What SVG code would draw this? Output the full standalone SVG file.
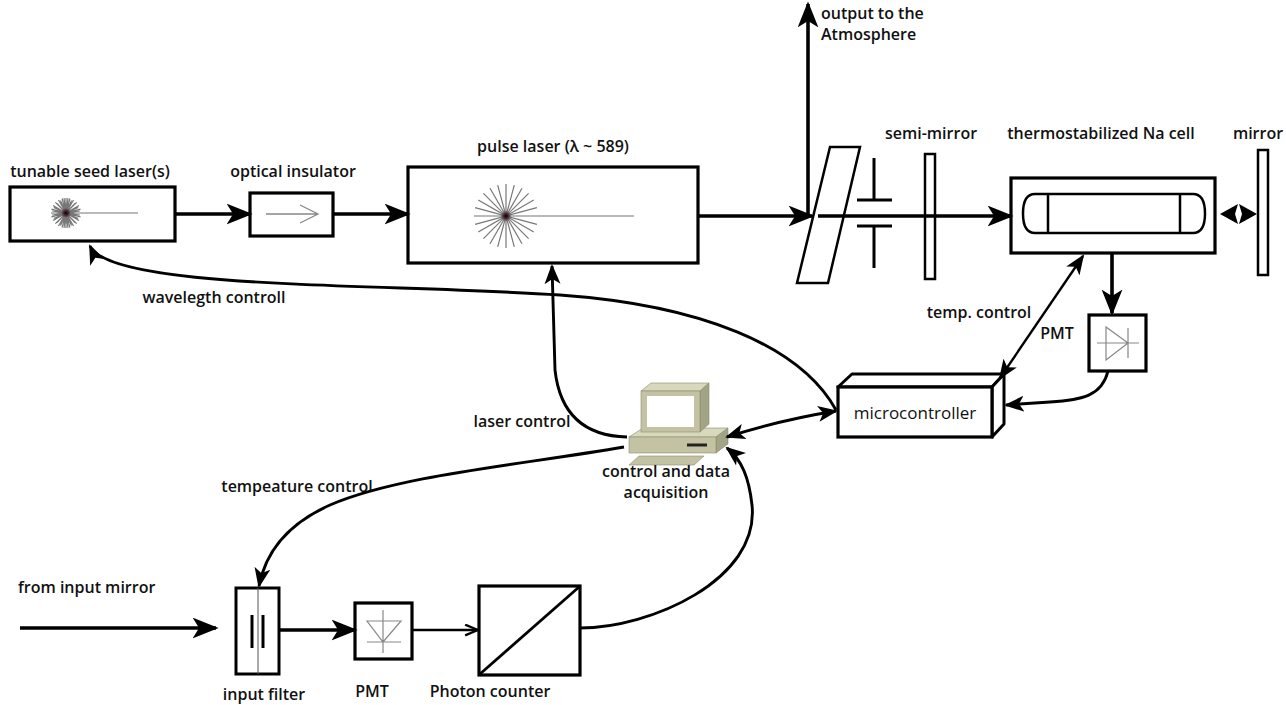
<svg xmlns="http://www.w3.org/2000/svg" width="1286" height="705" viewBox="0 0 1286 705">
  <style>
    .lb { font-family: "Open Sans", "Noto Sans", "Liberation Sans", sans-serif; font-size: 16px; font-weight: 600; fill: #111; }
    .lr { font-family: "Open Sans", "Noto Sans", "Liberation Sans", sans-serif; font-size: 17px; font-weight: 400; fill: #111; }
    .box { fill: #fff; stroke: #000; stroke-width: 3.2; }
    .thin { fill: none; stroke: #777; stroke-width: 1.2; }
    .beam { fill: none; stroke: #000; stroke-width: 3.6; marker-end: url(#ah); }
    .link { fill: none; stroke: #000; stroke-width: 2.9; marker-end: url(#ahs); }
    .pc-light { fill: #d8d8bc; stroke: #8c8c70; stroke-width: 0.6; }
    .pc-mid { fill: #c3c3a3; stroke: #8c8c70; stroke-width: 0.6; }
    .pc-dark { fill: #a3a386; stroke: #8c8c70; stroke-width: 0.6; }
  </style>
  <defs>
    <marker id="ah" viewBox="0 0 20 16" refX="18" refY="8" markerWidth="26" markerHeight="21" orient="auto-start-reverse" markerUnits="userSpaceOnUse">
      <path d="M0,0 L20,8 L0,16 L5,8 Z" fill="#000"/>
    </marker>
    <marker id="ahs" viewBox="0 0 20 16" refX="18" refY="8" markerWidth="20" markerHeight="17" orient="auto-start-reverse" markerUnits="userSpaceOnUse">
      <path d="M0,0 L20,8 L0,16 L5,8 Z" fill="#000"/>
    </marker>
    <marker id="aho" viewBox="0 0 14 12" refX="13" refY="6" markerWidth="15" markerHeight="13" orient="auto" markerUnits="userSpaceOnUse">
      <path d="M1,1 L13,6 L1,11" fill="none" stroke="#000" stroke-width="2.2"/>
    </marker>
    <radialGradient id="core" cx="0.5" cy="0.5" r="0.5">
      <stop offset="0" stop-color="#000"/>
      <stop offset="0.5" stop-color="#4a2a30"/>
      <stop offset="1" stop-color="#4a2a30" stop-opacity="0"/>
    </radialGradient>
  </defs>

  <rect width="1286" height="705" fill="#fff"/>

  <!-- seed laser -->
  <g id="seed-laser">
    <rect class="box" x="10" y="187" width="165" height="54"/>
    <path class="thin" d="M51,213 L138,213 M51.5,209.1 L80.5,216.9 M53,205.5 L79,220.5 M55.4,202.4 L76.6,223.6 M58.5,200 L73.5,226 M62.1,198.5 L69.9,227.5 M66,198 L66,228 M69.9,198.5 L62.1,227.5 M73.5,200 L58.5,226 M76.6,202.4 L55.4,223.6 M79,205.5 L53,220.5 M80.5,209.1 L51.5,216.9 M52.2,211 L79.8,215 M53.8,207.5 L78.2,218.5 M57,203.5 L75,222.5 M60.5,200.5 L71.5,225.5 M64,198.2 L68,227.8 M68,198.2 L64,227.8 M71.5,200.5 L60.5,225.5 M75,203.5 L57,222.5 M78.2,207.5 L53.8,218.5 M79.8,211 L52.2,215"/>
    <circle cx="66" cy="213" r="5" fill="url(#core)"/>
    <text class="lb" x="90" y="177" text-anchor="middle">tunable seed laser(s)</text>
  </g>

  <!-- optical insulator -->
  <g id="optical-insulator">
    <rect class="box" x="250" y="193" width="83" height="43"/>
    <path d="M266,214 L318,214 M300,205 L318,214 L300,223" fill="none" stroke="#888" stroke-width="1.3"/>
    <text class="lb" x="293" y="177" text-anchor="middle">optical insulator</text>
  </g>

  <!-- pulse laser -->
  <g id="pulse-laser">
    <rect class="box" x="408" y="167" width="290" height="96"/>
    <path class="thin" d="M474,216 L634,216 M475.1,207.7 L536.9,224.3 M478.3,200 L533.7,232 M483.4,193.4 L528.6,238.6 M490,188.3 L522,243.7 M497.7,185.1 L514.3,246.9 M506,184 L506,248 M514.3,185.1 L497.7,246.9 M522,188.3 L490,243.7 M528.6,193.4 L483.4,238.6 M533.7,200 L478.3,232 M536.9,207.7 L475.1,224.3"/>
    <circle cx="506" cy="216" r="5" fill="url(#core)"/>
    <text class="lb" x="553" y="152" text-anchor="middle">pulse laser (λ ~ 589)</text>
  </g>

  <!-- beam splitter / output -->
  <g id="beam-splitter">
    <polygon points="830,147 860,147 828,283 797,283" fill="#fff" stroke="#000" stroke-width="2.5"/>
    <text class="lb" x="821" y="19">output to the</text>
    <text class="lb" x="821" y="40">Atmosphere</text>
  </g>

  <!-- aperture -->
  <g id="aperture">
    <path d="M857,200 L892,200 M857,226 L892,226 M874,158 L874,200 M874,226 L874,268" fill="none" stroke="#000" stroke-width="3"/>
  </g>

  <!-- semi-mirror -->
  <g id="semi-mirror">
    <rect x="925" y="154" width="10" height="125" fill="#fff" stroke="#000" stroke-width="2.5"/>
    <text class="lb" x="931" y="139" text-anchor="middle">semi-mirror</text>
  </g>

  <!-- Na cell -->
  <g id="na-cell">
    <rect class="box" x="1011" y="178" width="204" height="75"/>
    <path d="M1035,194 L1193,194 Q1205,194 1205,213.5 Q1205,233 1193,233 L1035,233 Q1023,233 1023,213.5 Q1023,194 1035,194 Z M1048,194 L1048,233 M1180,194 L1180,233" fill="#fff" stroke="#000" stroke-width="2.5"/>
    <text class="lb" x="1101" y="139" text-anchor="middle">thermostabilized Na cell</text>
  </g>

  <!-- end mirror -->
  <g id="mirror">
    <rect x="1258" y="150" width="10" height="125" fill="#fff" stroke="#000" stroke-width="2.5"/>
    <path d="M1220,214 L1238,204 L1235,214 L1238,224 Z M1257,214 L1239,204 L1242,214 L1239,224 Z" fill="#000"/>
    <path d="M1238.5,207 L1236.5,211 L1240.5,211 Z M1238.5,221 L1236.5,217 L1240.5,217 Z" fill="#fff"/>
    <text class="lb" x="1258" y="139" text-anchor="middle">mirror</text>
  </g>

  <!-- PMT (cell) -->
  <g id="pmt-cell">
    <rect class="box" x="1089" y="315" width="57" height="56"/>
    <path d="M1097,343 L1139,343 M1106,327 L1106,360 L1128,343 Z M1128,328 L1128,358" fill="none" stroke="#888" stroke-width="1.2"/>
    <text class="lb" x="1057" y="339" text-anchor="middle">PMT</text>
  </g>

  <!-- microcontroller -->
  <g id="microcontroller">
    <polygon points="838,387 852,374 1004,374 992,387" fill="#fff" stroke="#000" stroke-width="3" stroke-linejoin="round"/>
    <polygon points="992,387 1004,374 1004,424 992,437" fill="#fff" stroke="#000" stroke-width="3" stroke-linejoin="round"/>
    <rect class="box" x="838" y="387" width="154" height="50"/>
    <text class="lr" x="915" y="419" text-anchor="middle">microcontroller</text>
  </g>

  <!-- computer -->
  <g id="computer">
    <polygon class="pc-light" points="629,437 643,428 728,428 716,437"/>
    <polygon class="pc-dark" points="716,437 728,428 728,444 716,453"/>
    <rect class="pc-mid" x="629" y="437" width="87" height="16"/>
    <line x1="687" y1="445" x2="707" y2="445" stroke="#222" stroke-width="3"/>
    <polygon class="pc-light" points="641,391 651,383 709,383 700,391"/>
    <polygon class="pc-dark" points="700,391 709,383 709,424 700,432"/>
    <rect class="pc-mid" x="641" y="391" width="59" height="41"/>
    <rect x="647" y="396" width="47" height="31" fill="#fff"/>
    <polygon class="pc-mid" points="639,456 704,456 694,465 629,465"/>
    <text class="lb" x="666" y="477" text-anchor="middle">control and data</text>
    <text class="lb" x="666" y="498" text-anchor="middle">acquisition</text>
  </g>

  <!-- input filter -->
  <g id="input-filter">
    <rect x="236" y="588" width="43" height="86" fill="#fff" stroke="#000" stroke-width="3"/>
    <line x1="258" y1="588" x2="258" y2="674" stroke="#555" stroke-width="1"/>
    <path d="M252,615 L252,648 M263,615 L263,648" stroke="#000" stroke-width="3"/>
    <text class="lb" x="264" y="700" text-anchor="middle">input filter</text>
    <text class="lb" x="18" y="593">from input mirror</text>
  </g>

  <!-- PMT (receiver) -->
  <g id="pmt-receiver">
    <rect class="box" x="355" y="603" width="57" height="56"/>
    <path d="M383,610 L383,653 M367,621 L401,621 L383,642 Z M367,642 L401,642" fill="none" stroke="#888" stroke-width="1.2"/>
    <text class="lb" x="372" y="697" text-anchor="middle">PMT</text>
  </g>

  <!-- photon counter -->
  <g id="photon-counter">
    <rect class="box" x="479" y="586" width="101" height="89"/>
    <line x1="480" y1="674" x2="579" y2="587" stroke="#000" stroke-width="2.8"/>
    <text class="lb" x="490" y="697" text-anchor="middle">Photon counter</text>
  </g>

  <!-- connector labels -->
  <g id="labels">
    <text class="lb" x="214" y="303" text-anchor="middle">wavelegth controll</text>
    <text class="lb" x="522" y="427" text-anchor="middle">laser control</text>
    <text class="lb" x="979" y="318" text-anchor="middle">temp. control</text>
    <text class="lb" x="297" y="492" text-anchor="middle">tempeature control</text>
  </g>

  <!-- connectors -->
  <g id="connectors">
    <path class="beam" d="M175,214 L250,214"/>
    <path class="beam" d="M333,214 L408,214"/>
    <path class="beam" d="M698,216 L812,216"/>
    <path class="beam" d="M808,216 L808,4"/>
    <path class="beam" d="M818,216 L1011,216"/>
    <path class="beam" d="M1112,253 L1112,313"/>
    <path class="beam" d="M20,628 L216,628"/>
    <path class="beam" d="M279,630 L355,630"/>
    <path d="M412,630 L478,630" fill="none" stroke="#000" stroke-width="2.5" marker-end="url(#aho)"/>
    <path class="link" d="M1000,378 L1083,256" style="marker-start:url(#ahs);stroke-width:2.4"/>
    <path class="link" d="M1108,371 C1102,396 1082,400 1050,402 L1006,405"/>
    <path class="link" d="M727,437 Q780,420 836,411" style="marker-start:url(#ahs)"/>
    <path class="link" d="M836,410 C800,345 700,305 560,295 C380,283 110,290 90,246"/>
    <path class="link" d="M627,437 C585,436 560,415 555,370 L552,266"/>
    <path class="link" d="M624,447 C520,465 400,475 330,505 C285,525 265,555 259,586"/>
    <path class="link" d="M580,628 C650,628 760,580 752,505 C749,478 742,460 727,448"/>
  </g>
</svg>
